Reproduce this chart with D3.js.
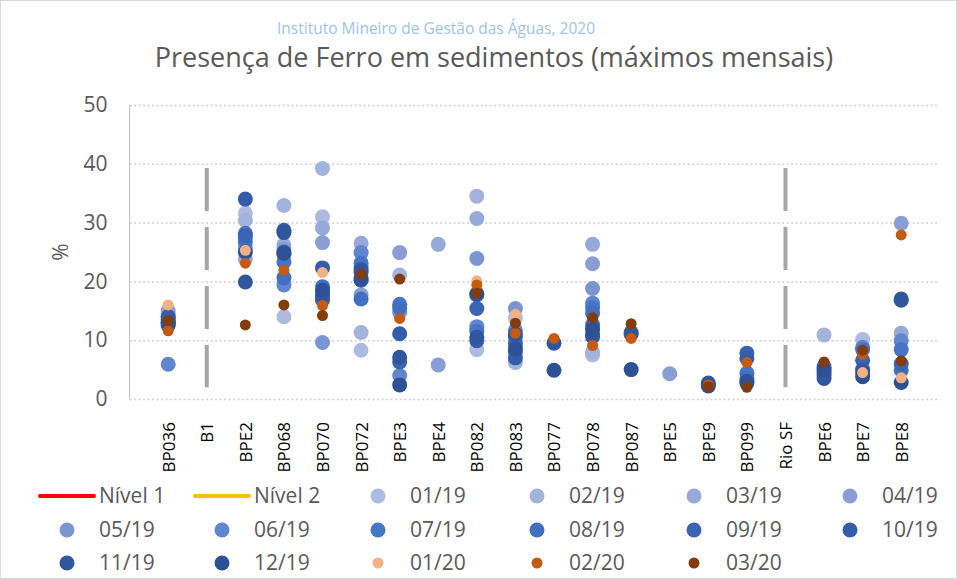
<!DOCTYPE html>
<html>
<head>
<meta charset="utf-8">
<script src="https://cdn.jsdelivr.net/npm/d3@7"></script>
<style>
    body { margin: 0; background: #fff; }
    svg { font-family: "Open Sans", "DejaVu Sans", sans-serif; }
</style>
</head>
<body>
<svg id="chart"></svg>
<script>
// stations along the x axis (B1 and Rio SF are only separators)
const stations = ["BP036", "B1", "BPE2", "BP068", "BP070", "BP072", "BPE3", "BPE4", "BP082", "BP083",
    "BP077", "BP078", "BP087", "BPE5", "BPE9", "BP099", "Rio SF", "BPE6", "BPE7", "BPE8"];

// monthly maxima (%), one value per station, null = no sample
const m0119 = [null, null, 31.6, 14.0, 31.0, 8.3, null, null, 8.4, 13.8, null, 7.5, null, null, null, null, null, null, 10.1, null];
const m0219 = [14.5, null, 30.4, 32.9, 39.2, 11.3, 21.1, null, 34.5, 6.2, null, 8.0, null, null, null, null, null, 10.9, null, null];
const m0319 = [null, null, 23.8, 26.2, 29.1, 26.5, null, 26.3, 30.7, null, null, 26.3, null, null, null, null, null, null, null, 11.2];
const m0419 = [15.0, null, 26.0, 25.5, 26.6, 17.7, 24.9, 5.8, 11.9, 9.0, null, 23.0, null, 4.3, null, null, null, null, null, 29.9];
const m0519 = [14.0, null, 25.5, 24.5, 9.6, 22.5, 14.7, null, 23.9, 15.4, null, 18.8, null, null, null, null, null, null, null, null];
const m0619 = [5.9, null, 27.5, 19.4, 17.0, 24.9, 4.0, null, 12.3, 11.7, null, 16.3, null, null, null, null, null, null, 8.8, 9.9];
const m0719 = [13.0, null, 28.2, 23.3, 18.0, 23.1, 16.1, null, 11.5, 10.5, null, 15.5, null, null, null, 4.4, null, null, 8.4, 8.4];
const m0819 = [13.5, null, 26.8, 20.6, 19.1, 17.0, 15.5, null, 17.7, 8.0, null, 14.6, null, null, null, 3.5, null, 5.5, null, 4.9];
const m0919 = [12.5, null, 27.8, 25.0, 16.8, 21.5, 6.3, null, 15.4, 9.5, null, 12.6, null, null, null, 7.8, null, 4.5, 6.6, 6.0];
const m1019 = [14.0, null, 34.0, 28.7, 22.3, 20.2, 11.1, null, 9.9, 7.0, null, 11.0, 11.3, null, 2.5, 6.9, null, 4.0, 5.0, 17.0];
const m1119 = [13.0, null, 19.9, 28.3, 17.5, 22.0, 7.1, null, 10.5, 11.0, 9.5, 10.6, 11.0, null, 2.7, 3.0, null, 3.5, 4.6, 16.8];
const m1219 = [12.8, null, 25.0, 24.8, 18.5, 20.5, 2.4, null, 17.9, 8.5, 4.9, 11.8, 5.0, null, 2.2, 2.7, null, 5.0, 3.8, 2.8];
const m0120 = [16.0, null, 25.3, null, 21.5, null, null, null, 20.1, 14.4, null, null, null, null, null, null, null, null, 4.5, 3.6];
const m0220 = [11.6, null, 23.1, 21.9, 15.9, null, 13.7, null, 19.4, 11.2, 10.3, 9.1, 10.3, null, 2.4, 6.2, null, null, 7.6, 27.9];
const m0320 = [13.3, null, 12.6, 16.0, 14.2, 21.2, 20.4, null, 18.0, 12.9, null, 13.8, 12.8, null, 2.1, 2.0, null, 6.3, 8.3, 6.5];

const seriesNames = ["01/19", "02/19", "03/19", "04/19", "05/19", "06/19", "07/19", "08/19",
    "09/19", "10/19", "11/19", "12/19", "01/20", "02/20", "03/20"];
const seriesValues = [m0119, m0219, m0319, m0419, m0519, m0619, m0719, m0819,
    m0919, m1019, m1119, m1219, m0120, m0220, m0320];
const seriesColors = ["#aebbdf", "#a3b3dc", "#96a9d8", "#8a9dd4", "#7b94d2", "#5f86cf", "#4674c6", "#4170c1",
    "#3a64b2", "#355ca8", "#30579d", "#2d5194", "#f4b183", "#c55a11", "#843c0c"];

// threshold series shown only in the legend
const levelNames = ["Nível 1", "Nível 2"];
const levelColors = ["#ff0000", "#ffc000"];

const yTicks = [0, 10, 20, 30, 40, 50];
const dividerStations = ["B1", "Rio SF"];
const dividerRange = [2, 39.3];

const width = 957;
const height = 579;

const svg = d3.select("#chart")
    .attr("width", width)
    .attr("height", height);

// chart frame
svg.append("rect")
    .attr("x", 0.5).attr("y", 0.5)
    .attr("width", width - 1).attr("height", height - 1)
    .attr("fill", "#fff")
    .attr("stroke", "#d9d9d9");

const xScale = d3.scaleLinear()
    .domain([0, stations.length + 1])
    .range([129.6, 939.8]);

const yScale = d3.scaleLinear()
    .domain([0, 50])
    .range([399, 105]);

const xPos = name => xScale(stations.indexOf(name) + 1);

// titles
svg.append("text")
    .attr("x", 436)
    .attr("y", 34)
    .attr("text-anchor", "middle")
    .style("font-size", "15.5px")
    .attr("fill", "#9dc3e6")
    .text("Instituto Mineiro de Gestão das Águas, 2020");

svg.append("text")
    .attr("x", 494)
    .attr("y", 67)
    .attr("text-anchor", "middle")
    .style("font-size", "27px")
    .attr("fill", "#595959")
    .text("Presença de Ferro em sedimentos (máximos mensais)");

// gridlines
svg.append("g")
    .attr("transform", `translate(${xScale(0)},0)`)
    .call(d3.axisLeft(yScale).tickValues(yTicks).tickSize(-(xScale.range()[1] - xScale.range()[0])).tickFormat(""))
    .call(g => g.select(".domain").remove())
    .call(g => g.selectAll("line")
        .attr("stroke", "#d0d0d0")
        .attr("stroke-width", 1.5)
        .attr("stroke-dasharray", "2,2.5"));

// y axis line and labels
svg.append("line")
    .attr("x1", xScale(0)).attr("x2", xScale(0))
    .attr("y1", yScale(50)).attr("y2", yScale(0))
    .attr("stroke", "#c8c8c8")
    .attr("stroke-width", 1.2);

svg.append("g")
    .attr("transform", `translate(${xScale(0) - 22},0)`)
    .call(d3.axisLeft(yScale).tickValues(yTicks).tickSize(0))
    .call(g => g.select(".domain").remove())
    .call(g => g.selectAll("text")
        .attr("x", 0)
        .attr("fill", "#595959")
        .style("font-size", "21px")
        .style("font-family", "'Open Sans', sans-serif"));

svg.append("text")
    .attr("transform", `translate(68,${(yScale(0) + yScale(50)) / 2}) rotate(-90)`)
    .attr("text-anchor", "middle")
    .style("font-size", "21px")
    .attr("fill", "#595959")
    .text("%");

// x labels
svg.append("g")
    .attr("transform", `translate(0,${yScale(0)})`)
    .call(d3.axisBottom(xScale)
        .tickValues(d3.range(1, stations.length + 1))
        .tickSize(0)
        .tickFormat(i => stations[i - 1]))
    .call(g => g.select(".domain").remove())
    .call(g => g.selectAll("text")
        .attr("fill", "#000")
        .style("font-size", "17px")
        .style("font-family", "'Open Sans', sans-serif")
        .style("text-anchor", "end")
        .attr("transform", "rotate(-90)")
        .attr("x", -23)
        .attr("y", 0)
        .attr("dy", "0.35em"));

// separators
svg.selectAll(".divider")
    .data(dividerStations)
    .enter()
    .append("line")
    .attr("class", "divider")
    .attr("x1", d => xPos(d)).attr("x2", d => xPos(d))
    .attr("y1", yScale(dividerRange[1])).attr("y2", yScale(dividerRange[0]))
    .attr("stroke", "#a6a6a6")
    .attr("stroke-width", 4)
    .attr("stroke-dasharray", "43,16");

// points
seriesNames.forEach((name, s) => {
    const pts = seriesValues[s]
        .map((v, i) => ({ v, i }))
        .filter(d => d.v !== null);
    svg.append("g")
        .selectAll("circle")
        .data(pts)
        .enter()
        .append("circle")
        .attr("cx", d => xScale(d.i + 1))
        .attr("cy", d => yScale(d.v))
        .attr("r", s < 12 ? 7.5 : 5.5)
        .attr("fill", seriesColors[s]);
});

// legend
const legendCols = [67, 222, 378, 537, 694, 850];
const legendRows = [496, 530, 563];
const legendItems = levelNames.map((n, i) => ({ name: n, color: levelColors[i], line: true }))
    .concat(seriesNames.map((n, i) => ({ name: n, color: seriesColors[i], line: false, small: i >= 12 })));

const legend = svg.append("g")
    .selectAll("g")
    .data(legendItems)
    .enter()
    .append("g")
    .attr("transform", (d, i) => `translate(${legendCols[i % 6]},${legendRows[Math.floor(i / 6)]})`);

legend.filter(d => d.line)
    .append("line")
    .attr("x1", -27).attr("x2", 27)
    .attr("stroke", d => d.color)
    .attr("stroke-width", 4)
    .attr("stroke-linecap", "round");

legend.filter(d => !d.line)
    .append("circle")
    .attr("r", d => d.small ? 5.5 : 7.5)
    .attr("fill", d => d.color);

legend.append("text")
    .attr("x", 32)
    .attr("dy", "0.35em")
    .style("font-size", "21px")
    .attr("fill", "#595959")
    .text(d => d.name);
</script>
</body>
</html>
